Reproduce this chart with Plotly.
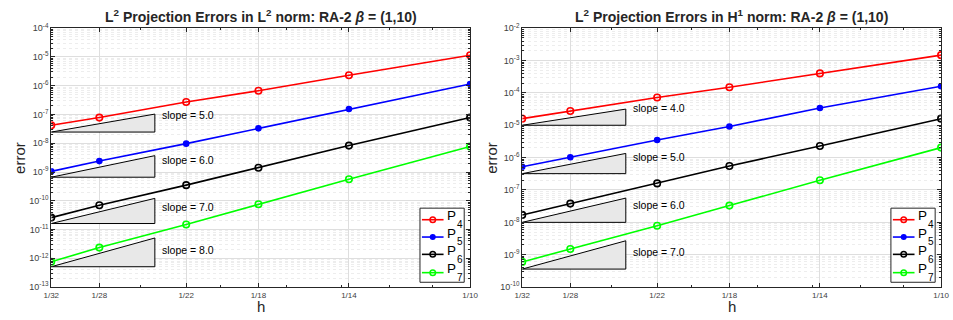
import math
import plotly.graph_objects as go

# ---- data ----
h_den = [32, 28, 22, 18, 14, 10]
h_labels = ["1/32", "1/28", "1/22", "1/18", "1/14", "1/10"]
series_base = ["P", "P", "P", "P"]
series_sub = ["4", "5", "6", "7"]

l2_p4 = [4.2e-8, 7.8e-8, 2.7e-7, 6.7e-7, 2.3e-6, 1.15e-5]
l2_p5 = [1.05e-9, 2.4e-9, 9.7e-9, 3.3e-8, 1.55e-7, 1.15e-6]
l2_p6 = [2.6e-11, 7.0e-11, 3.5e-10, 1.4e-9, 8.3e-9, 7.8e-8]
l2_p7 = [7.6e-13, 2.36e-12, 1.5e-11, 7.6e-11, 5.6e-10, 7.7e-9]

h1_p4 = [1.6e-5, 2.75e-5, 7.2e-5, 1.5e-4, 4.0e-4, 1.47e-3]
h1_p5 = [5.2e-7, 1.03e-6, 3.5e-6, 9.2e-6, 3.4e-5, 1.6e-4]
h1_p6 = [1.7e-8, 3.8e-8, 1.6e-7, 5.5e-7, 2.3e-6, 1.6e-5]
h1_p7 = [6.0e-10, 1.5e-9, 7.9e-9, 3.3e-8, 2.0e-7, 2.04e-6]

tri_h_den = [32, 24]
l2_slopes = [5, 6, 7, 8]
l2_tri_base = [2.45e-8, 6.6e-10, 1.62e-11, 5.1e-13]
h1_slopes = [4, 5, 6, 7]
h1_tri_base = [1.0e-5, 3.2e-7, 1.0e-8, 3.6e-10]

l2_exp = list(range(-13, -3))   # y tick exponents, left panel
h1_exp = list(range(-10, -1))   # y tick exponents, right panel

titles = ["<b>L<sup>2</sup> Projection Errors in L<sup>2</sup> norm: RA-2 <i>β</i> = (1,10)</b>",
          "<b>L<sup>2</sup> Projection Errors in H<sup>1</sup> norm: RA-2 <i>β</i> = (1,10)</b>"]

# ---- styles ----
colors = ["#ff0000", "#0000ff", "#000000", "#00ff00"]
symbols = ["circle-open", "circle", "circle-open", "circle-open"]
msizes = [6.5, 5, 6.5, 6.5]
leg_msizes = [5.5, 4.5, 5.5, 5.5]
FONT = "Liberation Sans, Arial, Helvetica, sans-serif"
W, H = 953, 320

h_vals = [1.0 / d for d in h_den]
tx0, tx1 = 1.0 / tri_h_den[0], 1.0 / tri_h_den[1]

fig = go.Figure()

panels = [
    dict(xa="x", ya="y", data=[l2_p4, l2_p5, l2_p6, l2_p7],
         slopes=l2_slopes, bases=l2_tri_base, leg_x=419),
    dict(xa="x2", ya="y2", data=[h1_p4, h1_p5, h1_p6, h1_p7],
         slopes=h1_slopes, bases=h1_tri_base, leg_x=898),
]

annotations = []
for pi, p in enumerate(panels):
    for s, b in zip(p["slopes"], p["bases"]):
        top = b * (tx1 / tx0) ** s
        fig.add_trace(go.Scatter(
            x=[tx0, tx1, tx1, tx0], y=[b, top, b, b], mode="lines",
            fill="toself", fillcolor="#e8e8e8",
            line=dict(color="#000000", width=1),
            xaxis=p["xa"], yaxis=p["ya"], showlegend=False, hoverinfo="skip"))
        annotations.append(dict(
            x=math.log10(tx1), y=math.log10(b),
            xref=p["xa"], yref=p["ya"], text=f"slope = {s:.1f}",
            showarrow=False, xanchor="left", yanchor="middle",
            xshift=5, yshift=17, font=dict(family=FONT, size=10.5, color="#000")))
    for k in range(4):
        fig.add_trace(go.Scatter(
            x=h_vals, y=p["data"][k], mode="lines+markers",
            name=series_base[k] + series_sub[k],
            line=dict(color=colors[k], width=1.6),
            marker=dict(symbol=symbols[k], size=msizes[k], color=colors[k],
                        line=dict(width=1.6, color=colors[k])),
            xaxis=p["xa"], yaxis=p["ya"], showlegend=False))

# ---- hand-drawn legend boxes on a pixel-space overlay axis ----
LEG_W, LEG_TOP, LEG_BOT = 45, 209, 286
ENTRY_Y = [221, 239, 257, 276]
for p in panels:
    lx = p["leg_x"]
    fig.add_trace(go.Scatter(
        x=[lx, lx + LEG_W, lx + LEG_W, lx, lx],
        y=[LEG_TOP, LEG_TOP, LEG_BOT, LEG_BOT, LEG_TOP], mode="lines",
        fill="toself", fillcolor="white", line=dict(color="#262626", width=1),
        xaxis="x3", yaxis="y3", showlegend=False, hoverinfo="skip"))
    for k in range(4):
        ey = ENTRY_Y[k]
        fig.add_trace(go.Scatter(
            x=[lx + 2, lx + 13, lx + 24], y=[ey, ey, ey], mode="lines+markers",
            line=dict(color=colors[k], width=1.6),
            marker=dict(symbol=symbols[k], size=leg_msizes[k], color=colors[k],
                        line=dict(width=1.5, color=colors[k]),
                        opacity=1),
            selectedpoints=[1], unselected=dict(marker=dict(opacity=0)),
            xaxis="x3", yaxis="y3", showlegend=False, hoverinfo="skip"))
        annotations.append(dict(x=lx + 25, y=ey - 4, xref="x3", yref="y3",
                                text=series_base[k], showarrow=False,
                                xanchor="left", yanchor="middle",
                                font=dict(family=FONT, size=13.5, color="#000")))
        annotations.append(dict(x=lx + 36, y=ey + 5, xref="x3", yref="y3",
                                text=series_sub[k], showarrow=False,
                                xanchor="left", yanchor="middle",
                                font=dict(family=FONT, size=10, color="#000")))

minor_x = [0.04, 0.05, 0.06, 0.07, 0.08, 0.09]

def yminor(exps):
    vals = []
    for e in exps[:-1]:
        for m in range(2, 10):
            vals.append(m * 10.0 ** e)
    return vals

xax = dict(type="log", range=[math.log10(h_vals[0]), math.log10(h_vals[-1])],
           tickmode="array",
           tickvals=h_vals, ticktext=h_labels, ticks="inside", ticklen=4,
           tickcolor="#262626", showline=True, linecolor="#262626", linewidth=1,
           mirror="allticks", showgrid=True, gridcolor="#dedede", gridwidth=1,
           zeroline=False, tickfont=dict(family=FONT, size=8, color="#404040"),
           minor=dict(tickmode="array", tickvals=minor_x, ticks="inside", ticklen=2,
                      tickcolor="#262626", showgrid=False))

def yax(exps):
    return dict(type="log", range=[exps[0], exps[-1]], tickmode="array",
                tickvals=[10.0 ** e for e in exps],
                ticktext=[f"10<sup>{e}</sup>" for e in exps],
                ticks="inside", ticklen=4, tickcolor="#262626", showline=True,
                linecolor="#262626", linewidth=1, mirror="allticks", showgrid=True,
                gridcolor="#dedede", gridwidth=1, zeroline=False,
                tickfont=dict(family=FONT, size=9, color="#404040"),
                minor=dict(tickmode="array", tickvals=yminor(exps), ticks="inside",
                           ticklen=2, tickcolor="#262626", showgrid=True,
                           gridcolor="#ededed", griddash="dot", gridwidth=1))

xd1 = [44 / W, 470 / W]
xd2 = [523 / W, 949 / W]
yd = [1 - 291 / H, 1 - 22 / H]

fig.update_layout(
    width=W, height=H, margin=dict(l=0, r=0, t=0, b=0),
    paper_bgcolor="white", plot_bgcolor="rgba(0,0,0,0)",
    xaxis=dict(xax, domain=xd1, anchor="y"),
    yaxis=dict(yax(l2_exp), domain=yd, anchor="x"),
    xaxis2=dict(xax, domain=xd2, anchor="y2"),
    yaxis2=dict(yax(h1_exp), domain=yd, anchor="x2"),
    xaxis3=dict(domain=[0, 1], range=[0, W], visible=False, anchor="y3",
                fixedrange=True),
    yaxis3=dict(domain=[0, 1], range=[H, 0], visible=False, anchor="x3",
                fixedrange=True),
    showlegend=False,
)

for i, t in enumerate(titles):
    cx = (xd1[0] + xd1[1]) / 2 if i == 0 else (xd2[0] + xd2[1]) / 2
    annotations.append(dict(x=cx, y=1 - 9 / H, xref="paper", yref="paper", text=t,
                            showarrow=False, xanchor="center", yanchor="middle",
                            font=dict(family=FONT, size=14, color="#262626")))
    annotations.append(dict(x=cx, y=1 - 311 / H, xref="paper", yref="paper", text="h",
                            showarrow=False, xanchor="center", yanchor="middle",
                            font=dict(family=FONT, size=15, color="#262626")))
    ex = 11 / W if i == 0 else 491 / W
    annotations.append(dict(x=ex, y=1 - 157 / H, xref="paper", yref="paper", text="error",
                            showarrow=False, xanchor="center", yanchor="middle",
                            textangle=-90,
                            font=dict(family=FONT, size=15, color="#262626")))

fig.update_layout(annotations=annotations)
fig.write_html("out.html")
